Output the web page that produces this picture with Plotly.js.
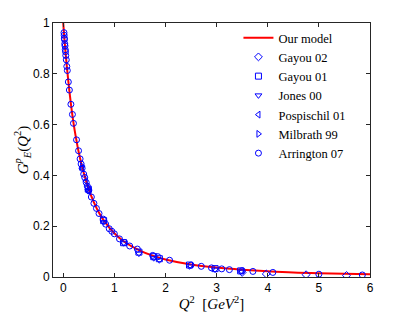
<!DOCTYPE html>
<html><head><meta charset="utf-8">
<script src="https://cdn.plot.ly/plotly-3.0.1.min.js"></script>
<style>html,body{margin:0;padding:0;background:#fff;}#chart{width:409px;height:312px;}</style>
</head><body><div id="chart"></div>
<script>
// Model curve
const modelQ2 = [0, 0.02, 0.05, 0.1, 0.15, 0.2, 0.25, 0.3, 0.4, 0.5, 0.6, 0.7, 0.8, 1.0, 1.2, 1.5, 1.75, 2.0, 2.5, 3.0, 3.5, 4.0, 4.5, 5.0, 5.5, 6.0];
const modelG  = [1.0, 0.945, 0.873, 0.77, 0.682, 0.608, 0.547, 0.494, 0.41, 0.345, 0.294, 0.253, 0.221, 0.172, 0.138, 0.104, 0.084, 0.069, 0.049, 0.037, 0.029, 0.023, 0.018, 0.015, 0.013, 0.011];

// Gayou 02 (diamonds)
const gayou02Q2 = [3.5, 3.97, 4.75, 5.54];
const gayou02G  = [0.018, 0.012, 0.009, 0.006];
// Gayou 01 (squares)
const gayou01Q2 = [0.49, 0.79, 1.18, 1.48, 1.77, 1.88, 2.47, 2.97, 3.47];
const gayou01G  = [0.346, 0.222, 0.135, 0.098, 0.080, 0.072, 0.047, 0.033, 0.024];
// Jones 00 (down triangles)
const jones00Q2 = [0.49, 0.79, 1.18, 1.48, 1.77, 1.88, 2.47, 2.97, 3.47];
const jones00G  = [0.338, 0.216, 0.133, 0.092, 0.074, 0.066, 0.042, 0.029, 0.021];
// Pospischil 01 (left triangles)
const posp01Q2 = [0.37, 0.44, 0.5];
const posp01G  = [0.428, 0.378, 0.340];
// Milbrath 99 (right triangles)
const milb99Q2 = [0.37, 0.5];
const milb99G  = [0.436, 0.350];
// Arrington 07 (circles)
const arr07Q2 = [0.015, 0.018, 0.022, 0.025, 0.03, 0.035, 0.04, 0.045, 0.05, 0.06, 0.07, 0.08, 0.1, 0.12, 0.15, 0.18, 0.2, 0.26, 0.3, 0.33, 0.35, 0.37, 0.4, 0.42, 0.45, 0.47, 0.5, 0.55, 0.6, 0.65, 0.7, 0.78, 0.83, 0.9, 0.95, 1.0, 1.1, 1.2, 1.3, 1.45, 1.75, 1.85, 2.08, 2.5, 2.7, 2.9, 3.1, 3.25, 3.5, 3.71, 4.1, 5.0, 5.85];
const arr07G  = [0.962, 0.952, 0.940, 0.935, 0.918, 0.910, 0.895, 0.887, 0.872, 0.855, 0.829, 0.813, 0.768, 0.736, 0.680, 0.640, 0.605, 0.540, 0.497, 0.465, 0.445, 0.428, 0.405, 0.392, 0.372, 0.358, 0.340, 0.315, 0.290, 0.270, 0.250, 0.228, 0.208, 0.190, 0.180, 0.170, 0.150, 0.136, 0.122, 0.110, 0.085, 0.080, 0.066, 0.047, 0.042, 0.036, 0.032, 0.029, 0.025, 0.022, 0.018, 0.011, 0.008];

const blue = '#0000ff';
const serif = "'Liberation Serif', 'DejaVu Serif', serif";
function pts(x, y, name, symbol) {
  return {x: x, y: y, name: name, type: 'scatter', mode: 'markers',
    marker: {symbol: symbol, size: 6, color: blue, line: {color: blue, width: 1}}};
}
const traces = [
  {x: modelQ2, y: modelG, name: 'Our model', type: 'scatter', mode: 'lines',
   line: {color: '#ff0000', width: 2, shape: 'spline'}},
  pts(gayou02Q2, gayou02G, 'Gayou 02', 'diamond-open'),
  pts(gayou01Q2, gayou01G, 'Gayou 01', 'square-open'),
  pts(jones00Q2, jones00G, 'Jones 00', 'triangle-down-open'),
  pts(posp01Q2, posp01G, 'Pospischil 01', 'triangle-left-open'),
  pts(milb99Q2, milb99G, 'Milbrath 99', 'triangle-right-open'),
  pts(arr07Q2, arr07G, 'Arrington 07', 'circle-open')
];

const axisCommon = {showgrid: false, zeroline: false, showline: true, mirror: 'ticks',
  linecolor: '#262626', linewidth: 1, ticks: 'inside', ticklen: 4, tickcolor: '#262626',
  tickfont: {family: "'Liberation Sans', Arial, sans-serif", size: 12, color: '#000'}};

const layout = {
  width: 409, height: 312,
  margin: {l: 53, r: 39, t: 23, b: 35},
  paper_bgcolor: '#fff', plot_bgcolor: '#fff',
  showlegend: true,
  legend: {x: 0.585, y: 1.0, xanchor: 'left', yanchor: 'top', bgcolor: 'rgba(255,255,255,0)',
    borderwidth: 0, font: {family: serif, size: 12.5, color: '#000'},
    itemwidth: 30, tracegroupgap: 0},
  xaxis: Object.assign({}, axisCommon, {range: [-0.2, 6], tickvals: [0,1,2,3,4,5,6],
    title: {text: '<i>Q</i><sup>2</sup>  [<i>GeV</i><sup>2</sup>]', standoff: 0,
      font: {family: serif, size: 15, color: '#000'}}}),
  yaxis: Object.assign({}, axisCommon, {range: [0, 1], tickvals: [0,0.2,0.4,0.6,0.8,1],
    ticktext: ['0','0.2','0.4','0.6','0.8','1'],
    title: {text: '<i>G</i><sup><i>p</i></sup><sub><i>E</i></sub>(<i>Q</i><sup>2</sup>)', standoff: 0,
      font: {family: serif, size: 15, color: '#000'}}})
};
Plotly.newPlot('chart', traces, layout, {displayModeBar: false, staticPlot: true});
</script></body></html>
